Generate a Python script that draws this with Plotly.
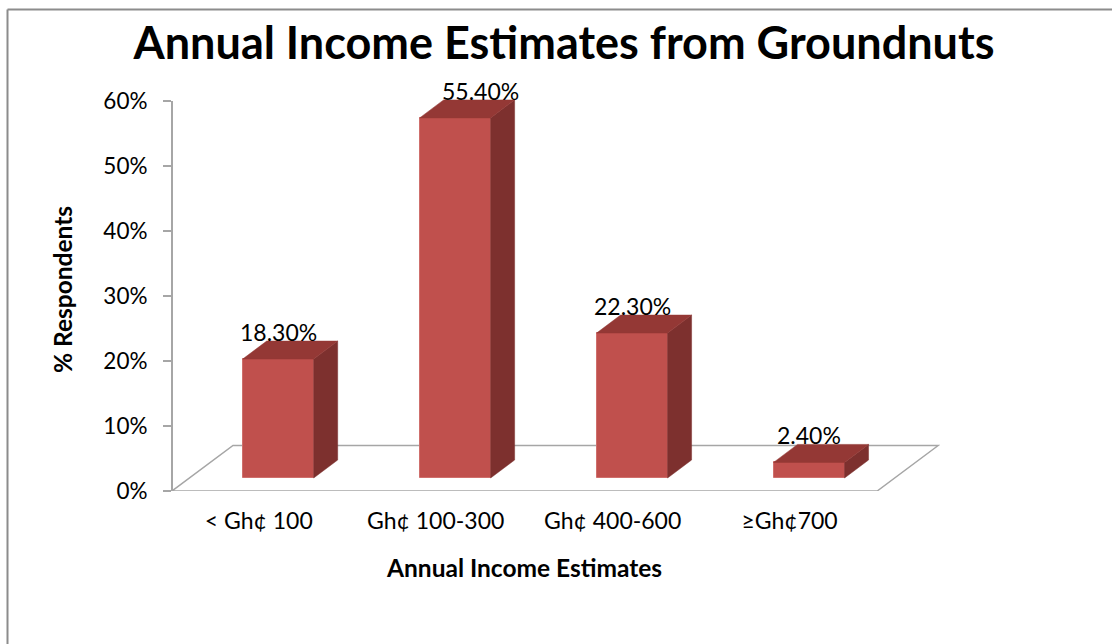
import plotly.graph_objects as go

# ---- data ----
categories = ["< Gh¢ 100", "Gh¢ 100-300", "Gh¢ 400-600", "≥Gh¢700"]
values = [0.183, 0.554, 0.223, 0.024]
value_labels = ["18.30%", "55.40%", "22.30%", "2.40%"]
y_ticks = [0, 0.1, 0.2, 0.3, 0.4, 0.5, 0.6]
y_tick_labels = ["0%", "10%", "20%", "30%", "40%", "50%", "60%"]

# ---- layout / style constants ----
W, H = 1112, 644
AXIS_TOP = 0.6
Y_RANGE = [0, 0.62]
X_RANGE = [-0.6, 3.74]
ML, MR, MB = 172, 172, 153
YU = 650.0                            # px per y unit
PH = YU * (Y_RANGE[1] - Y_RANGE[0])
MT = H - MB - PH
PW = W - ML - MR
XU = PW / (X_RANGE[1] - X_RANGE[0])   # px per x unit

BAR_W = 71 / XU
BASE = 13 / YU
DDX, DDY = 24 / XU, 18 / YU           # bar depth
FDX, FDY = 61 / XU, 45.5 / YU         # floor depth
FLOOR_RIGHT = 3.385

FRONT = "#C0504D"
SIDE = "#7D302E"
TOP = "#943835"
GRID = "#A6A6A6"
FONT = "Lato"


def px_to_paper_x(px):
    return (px - ML) / PW


def px_to_paper_y(py):
    return (H - MB - py) / PH


fig = go.Figure()

xs = list(range(len(categories)))

# front faces
fig.add_trace(go.Bar(
    x=xs, y=values, base=[BASE] * len(values), width=BAR_W,
    marker=dict(color=FRONT, line=dict(color="#CF6F6C", width=1)),
    showlegend=False, hoverinfo="skip"))

# side faces
sx, sy = [], []
for x, v in zip(xs, values):
    r = x + BAR_W / 2
    sx += [r, r + DDX, r + DDX, r, r, None]
    sy += [BASE, BASE + DDY, BASE + v + DDY, BASE + v, BASE, None]
fig.add_trace(go.Scatter(x=sx, y=sy, fill="toself", fillcolor=SIDE, mode="lines",
                         line=dict(color=SIDE, width=0.5), hoverinfo="skip", showlegend=False))

# top faces
tx, ty = [], []
for x, v in zip(xs, values):
    l, r = x - BAR_W / 2, x + BAR_W / 2
    t = BASE + v
    tx += [l, r, r + DDX, l + DDX, l, None]
    ty += [t, t, t + DDY, t + DDY, t, None]
fig.add_trace(go.Scatter(x=tx, y=ty, fill="toself", fillcolor=TOP, mode="lines",
                         line=dict(color=TOP, width=0.5), hoverinfo="skip", showlegend=False))

annotations = []
label_xshift = [0, 25, 0, 0]
for x, v, lab, xs_ in zip(xs, values, value_labels, label_xshift):
    annotations.append(dict(
        x=x, y=BASE + v + DDY, text=lab, showarrow=False, xanchor="center", yanchor="middle",
        yshift=9, xshift=xs_, font=dict(family=FONT, size=23, color="#000000")))

annotations.append(dict(
    x=px_to_paper_x(524), y=px_to_paper_y(567), xref="paper", yref="paper",
    text="<b>Annual Income Estimates</b>", showarrow=False, xanchor="center", yanchor="middle",
    font=dict(family=FONT, size=24.5, color="#000000")))
annotations.append(dict(
    x=px_to_paper_x(62), y=px_to_paper_y(290), xref="paper", yref="paper",
    text="<b>% Respondents</b>", showarrow=False, textangle=-90, xanchor="center", yanchor="middle",
    font=dict(family=FONT, size=24.5, color="#000000")))

# floor (behind the bars)
floor_x = [X_RANGE[0], FLOOR_RIGHT, FLOOR_RIGHT + FDX, X_RANGE[0] + FDX]
floor_y = [0, 0, FDY, FDY]
floor_path = "M " + " L ".join(f"{a},{b}" for a, b in zip(floor_x, floor_y)) + " Z"

shapes = [
    dict(type="path", xref="x", yref="y", path=floor_path, layer="below",
         line=dict(color=GRID, width=1.5)),
    dict(type="line", xref="paper", yref="y", x0=0, x1=0, y0=0, y1=AXIS_TOP,
         line=dict(color=GRID, width=2)),
    dict(type="line", xref="paper", yref="paper",
         x0=px_to_paper_x(7.5), x1=px_to_paper_x(W + 5), y0=px_to_paper_y(9.5), y1=px_to_paper_y(9.5),
         line=dict(color="#8C8C8C", width=2)),
    dict(type="line", xref="paper", yref="paper",
         x0=px_to_paper_x(7.5), x1=px_to_paper_x(7.5), y0=px_to_paper_y(9.5), y1=px_to_paper_y(H + 5),
         line=dict(color="#8C8C8C", width=2)),
]

fig.update_layout(
    width=W, height=H,
    margin=dict(l=ML, r=MR, t=MT, b=MB, pad=0),
    paper_bgcolor="white", plot_bgcolor="white",
    title=dict(text="<b>Annual Income Estimates from Groundnuts</b>", xref="container", yref="container",
               x=564 / W, y=1 - 43 / H, xanchor="center", yanchor="middle",
               font=dict(family=FONT, size=45, color="#000000")),
    xaxis=dict(range=X_RANGE, tickmode="array", tickvals=[x - 0.11 for x in xs], ticktext=categories,
               showgrid=False, zeroline=False, showline=False, ticks="",
               tickfont=dict(family=FONT, size=23, color="#000000"), ticklabelstandoff=14,
               fixedrange=True),
    yaxis=dict(range=Y_RANGE, tickmode="array", tickvals=y_ticks, ticktext=y_tick_labels,
               showgrid=False, zeroline=False, showline=False,
               ticks="outside", ticklen=8, tickcolor=GRID, tickwidth=1.5,
               tickfont=dict(family=FONT, size=22.5, color="#000000"), ticklabelstandoff=11,
               fixedrange=True),
    annotations=annotations, shapes=shapes,
    bargap=0, showlegend=False,
)

fig.write_html("out.html")
